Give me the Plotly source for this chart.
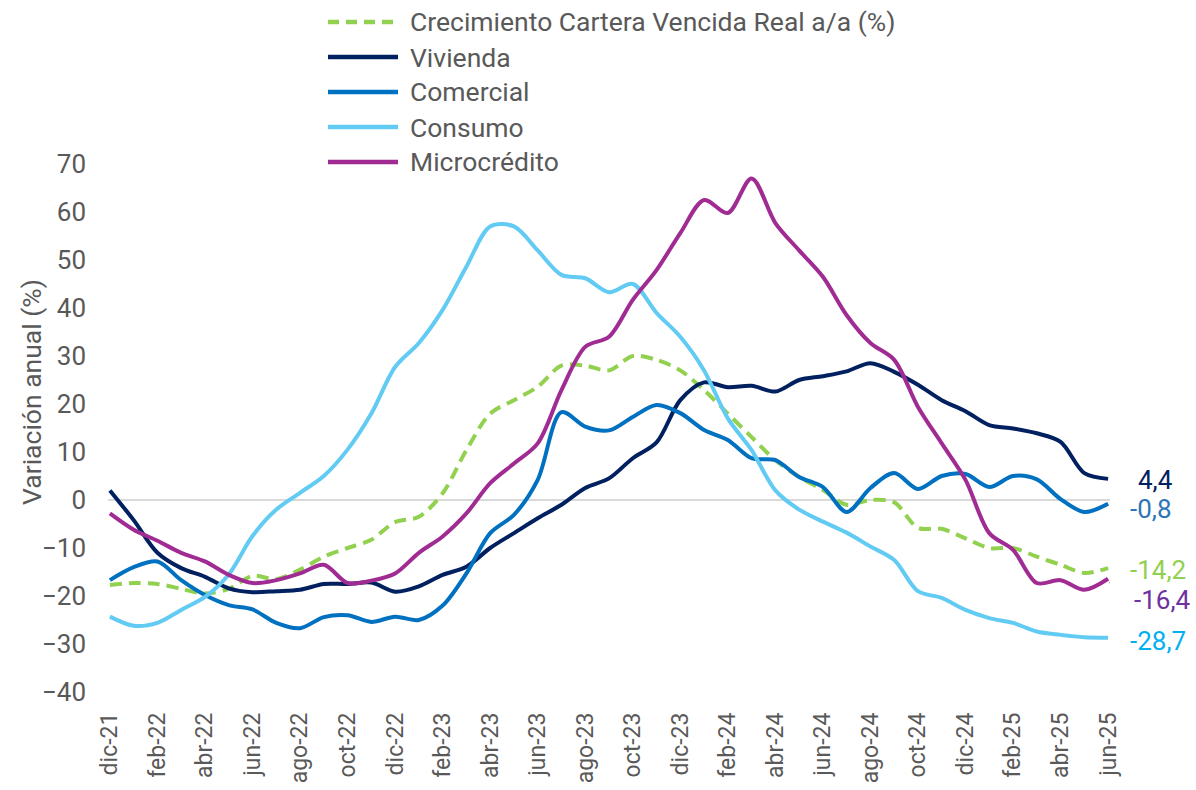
import plotly.graph_objects as go

meses = ["dic-21", "ene-22", "feb-22", "mar-22", "abr-22", "may-22", "jun-22", "jul-22", "ago-22", "sep-22", "oct-22", "nov-22",
         "dic-22", "ene-23", "feb-23", "mar-23", "abr-23", "may-23", "jun-23", "jul-23", "ago-23", "sep-23", "oct-23", "nov-23",
         "dic-23", "ene-24", "feb-24", "mar-24", "abr-24", "may-24", "jun-24", "jul-24", "ago-24", "sep-24", "oct-24", "nov-24",
         "dic-24", "ene-25", "feb-25", "mar-25", "abr-25", "may-25", "jun-25"]

crecimiento = [-17.7, -17.3, -17.5, -18.5, -19.5, -18.5, -15.8, -16.5, -14.5, -11.8, -10.0, -8.3, -4.6, -3.5, 1.4, 10.4,
               18.0, 20.8, 23.6, 28.0, 28.0, 27.0, 30.0, 29.2, 27.0, 22.9, 18.0, 13.1, 8.3, 4.8, 2.1, -1.0, 0.0, -0.5,
               -5.8, -6.0, -8.0, -10.0, -10.0, -11.8, -13.5, -15.2, -14.2]
vivienda = [2.0, -4.2, -11.0, -14.2, -16.0, -18.4, -19.2, -19.0, -18.7, -17.5, -17.5, -17.2, -19.1, -18.0, -15.6, -13.9,
            -10.0, -6.9, -3.8, -1.0, 2.5, 4.5, 8.7, 12.0, 20.8, 24.5, 23.5, 23.8, 22.6, 25.0, 25.8, 26.8, 28.5, 26.7,
            24.0, 20.8, 18.5, 15.6, 14.9, 13.9, 12.1, 5.6, 4.4]
comercial = [-16.7, -14.0, -12.8, -16.7, -19.8, -21.9, -22.8, -25.6, -26.7, -24.4, -24.0, -25.4, -24.3, -25.0, -22.0,
             -15.3, -6.9, -3.1, 4.2, 18.3, 15.3, 14.5, 17.3, 19.8, 18.1, 14.6, 12.5, 8.7, 8.3, 4.8, 2.7, -2.5, 2.5, 5.6,
             2.3, 5.0, 5.4, 2.7, 5.0, 4.3, 0.2, -2.5, -0.8]
consumo = [-24.3, -26.2, -25.6, -22.9, -20.2, -15.5, -7.5, -2.0, 1.5, 5.0, 10.5, 18.0, 27.7, 32.7, 39.6, 48.6, 57.0, 57.0,
           52.0, 46.9, 46.2, 43.3, 45.0, 39.0, 34.0, 27.0, 17.0, 10.4, 2.0, -2.0, -4.5, -6.8, -9.7, -12.5, -19.0, -20.4,
           -22.9, -24.6, -25.6, -27.4, -28.1, -28.6, -28.7]
microcredito = [-2.8, -6.2, -8.5, -11.0, -12.8, -15.6, -17.3, -16.7, -15.3, -13.5, -17.3, -16.8, -15.3, -11.0, -7.6, -2.8,
                3.5, 7.6, 11.8, 22.9, 31.9, 34.0, 41.7, 47.9, 55.6, 62.5, 59.8, 67.0, 57.7, 52.0, 46.5, 38.5, 32.7, 29.2,
                19.4, 11.8, 4.2, -6.9, -10.4, -17.3, -16.7, -18.7, -16.4]

series_names = ["Crecimiento Cartera Vencida Real a/a (%)", "Vivienda", "Comercial", "Consumo", "Microcrédito"]
series_values = [crecimiento, vivienda, comercial, consumo, microcredito]
line_colors = ["#92D050", "#002060", "#0070C0", "#61CBF3", "#A02B93"]
line_dash = ["12px,7px", "solid", "solid", "solid", "solid"]
label_colors = ["#92D050", "#002060", "#2E75B6", "#00B0F0", "#7030A0"]
label_texts = ["-14,2", "4,4", "-0,8", "-28,7", "-16,4"]
label_xshift = [20, 28, 20, 20, 24]
label_yshift = [-2, -1, -5, -3, -21]
y_title = "Variación anual (%)"

TXT = "#595959"
FONT = "Roboto"

# plot-area geometry in page pixels (used only to place the legend block and axis title)
L, R, T, B = 108, 1110, 164, 692


def px(p):
    return (p - L) / (R - L)


def py(p):
    return (B - p) / (B - T)


fig = go.Figure()
for name, vals, col, dash in zip(series_names, series_values, line_colors, line_dash):
    fig.add_trace(go.Scatter(
        x=meses, y=vals, name=name, mode="lines",
        line=dict(color=col, width=4, dash=dash, shape="spline", smoothing=0.9),
        hoverinfo="x+y+name", showlegend=False,
    ))

# legend block (line sample + label) at top
for i, (name, col, dash) in enumerate(zip(series_names, line_colors, line_dash)):
    yc = 22 + 35 * i
    fig.add_shape(type="line", xref="paper", yref="paper", x0=px(328), x1=px(398), y0=py(yc), y1=py(yc),
                  line=dict(color=col, width=4.5, dash=("11px,7px" if dash != "solid" else "solid")))
    fig.add_annotation(xref="paper", yref="paper", x=px(408), y=py(yc), text=name, showarrow=False,
                       xanchor="left", yanchor="middle", font=dict(family=FONT, size=26.5, color=TXT))

for vals, txt, col, xs, ys in zip(series_values, label_texts, label_colors, label_xshift, label_yshift):
    fig.add_annotation(x=meses[-1], y=vals[-1], text=txt, showarrow=False, xanchor="left", yanchor="middle",
                       xshift=xs, yshift=ys, font=dict(family=FONT, size=26, color=col))

# leader line for Microcrédito label
fig.add_shape(type="path", xref="x", yref="y", xsizemode="pixel", ysizemode="pixel",
              xanchor=meses[-1], yanchor=microcredito[-1],
              path="M2,-3 L9,-19 L21,-19", line=dict(color="#808080", width=2))

# y-axis title
fig.add_annotation(xref="paper", yref="paper", x=px(31), y=py(392), text=y_title, textangle=-90, showarrow=False,
                   xanchor="center", yanchor="middle", font=dict(family=FONT, size=26.5, color=TXT))

fig.update_layout(
    width=1196, height=790,
    paper_bgcolor="white", plot_bgcolor="white",
    margin=dict(l=L, r=1196 - R, t=T, b=790 - B),
    font=dict(family=FONT, size=24, color=TXT),
    showlegend=False,
)
fig.update_xaxes(
    type="category", range=[-0.08, 42.08], tickmode="array", tickvals=meses[::2], ticktext=meses[::2],
    tickangle=-90, tickfont=dict(family=FONT, size=23, color=TXT), showgrid=False, showline=False,
    zeroline=False, ticks="", automargin=False, ticklabelstandoff=15,
)
fig.update_yaxes(
    range=[-40, 70], tickmode="array", tickvals=list(range(-40, 71, 10)),
    tickfont=dict(family=FONT, size=26, color=TXT), showgrid=False, showline=False,
    zeroline=True, zerolinecolor="#D9D9D9", zerolinewidth=2, ticks="", automargin=False, ticklabelstandoff=21,
)

fig.write_html("out.html", config={"displayModeBar": False},
               post_script="document.body.style.margin='0px';")
